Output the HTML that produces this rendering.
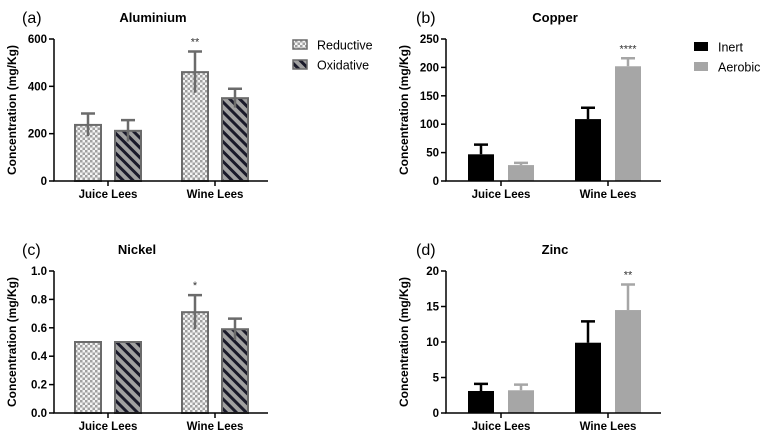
<!DOCTYPE html>
<html><head><meta charset="utf-8"><style>
body{margin:0;background:#fff;width:766px;height:439px;overflow:hidden}
svg{font-family:"Liberation Sans",Arial,sans-serif}
</style></head><body>
<svg id="c" width="766" height="439" xmlns="http://www.w3.org/2000/svg">
<defs>
<pattern id="chk" width="5" height="5" patternUnits="userSpaceOnUse">
<rect width="5" height="5" fill="#f4f4f4"/><rect width="2.5" height="2.5" fill="#a0a0a0"/><rect x="2.5" y="2.5" width="2.5" height="2.5" fill="#a0a0a0"/>
</pattern>
<pattern id="hat" width="7" height="7" patternUnits="userSpaceOnUse" patternTransform="rotate(-45)">
<rect width="7" height="7" fill="#a0a0a0"/><rect width="3" height="7" fill="#1a1a2a"/>
</pattern>
</defs>
</svg>
<script>
const categories = ["Juice Lees", "Wine Lees"];
const alValues = [237, 212, 460, 350];
const alErrors = [48, 45, 87, 40];
const cuValues = [47, 28, 109, 202];
const cuErrors = [17, 4, 20, 14];
const niValues = [0.5, 0.5, 0.71, 0.59];
const niErrors = [0, 0, 0.12, 0.075];
const znValues = [3.1, 3.2, 9.9, 14.5];
const znErrors = [1.0, 0.8, 3.0, 3.6];
const alTicks = ["0", "200", "400", "600"];
const cuTicks = ["0", "50", "100", "150", "200", "250"];
const niTicks = ["0.0", "0.2", "0.4", "0.6", "0.8", "1.0"];
const znTicks = ["0", "5", "10", "15", "20"];
const alStars = ["", "", "**", ""];
const cuStars = ["", "", "", "****"];
const niStars = ["", "", "*", ""];
const znStars = ["", "", "", "**"];

const svg = document.getElementById('c');
const NS = "http://www.w3.org/2000/svg";
function mk(tag, attrs, parent){
  const e = document.createElementNS(NS, tag);
  for (const k in attrs) e.setAttribute(k, attrs[k]);
  (parent || svg).appendChild(e);
  return e;
}
function panel(o){
  const g = mk('g', {});
  
  
  const max = parseFloat(o.ticks[o.ticks.length-1]);
  const y = v => o.y0 - (v/max)*(o.y0 - o.yTop);
  const barW = 26;
  const offs = [0, 40, 107, 147];
  o.vals.forEach((v, i) => {
    const x = o.bx + offs[i];
    const fill = o.kind === 'pat' ? (i % 2 === 0 ? 'url(#chk)' : 'url(#hat)') : (i % 2 === 0 ? '#000' : '#a6a6a6');
    const ec = o.kind === 'pat' ? '#6b6b6b' : (i % 2 === 0 ? '#000' : '#a6a6a6');
    const r = mk('rect', {x: x, y: y(v), width: barW, height: o.y0 - y(v), fill: fill,
      stroke: o.kind === 'pat' ? '#6b6b6b' : 'none', 'stroke-width': 2}, g);
    
    
    const e = o.errs[i];
    if (e > 0) {
      const cx = x + barW/2;
      const lo = o.kind === 'pat' ? y(v - e) : y(v);
      const eb = mk('path', {d: `M${cx},${lo}V${y(v+e)}M${cx-7},${y(v+e)}H${cx+7}`, stroke: ec, 'stroke-width': 2.5, fill: 'none'}, g);
      
      
    }
    if (o.stars[i]) {
      const t = mk('text', {x: x + barW/2, y: y(v + e) - 6, 'text-anchor': 'middle', 'font-size': 11, fill: '#333'}, g);
      t.textContent = o.stars[i];
      
      
    }
  });
  const ax = mk('path', {d: `M${o.ax},${o.yTop}V${o.y0}H${o.axEnd}`, stroke: '#000', 'stroke-width': 1.5, fill: 'none'}, g);
  
  
  o.ticks.forEach(t => {
    const yy = y(parseFloat(t));
    mk('line', {x1: o.ax - 5, x2: o.ax, y1: yy, y2: yy, stroke: '#000', 'stroke-width': 1.5}, g);
    const tx = mk('text', {x: o.ax - 7, y: yy + 4, 'text-anchor': 'end', 'font-size': 11.5, 'font-weight': 'bold'}, g);
    tx.textContent = t;
    
    
  });
  categories.forEach((c, i) => {
    const cx = o.bx + offs[i*2] + (barW + 40)/2;
    mk('line', {x1: cx, x2: cx, y1: o.y0, y2: o.y0 + 5, stroke: '#000', 'stroke-width': 1.5}, g);
    const tx = mk('text', {x: cx, y: o.y0 + 17, 'text-anchor': 'middle', 'font-size': 11.5, 'font-weight': 'bold'}, g);
    tx.textContent = c;
    
    
  });
  const yt = mk('text', {transform: `translate(${o.ax - 38},${(o.y0 + o.yTop)/2}) rotate(-90)`, 'text-anchor': 'middle', 'font-size': 12, 'font-weight': 'bold'}, g);
  yt.textContent = 'Concentration (mg/Kg)';
  
  
  const ti = mk('text', {x: o.titleX, y: o.yTop - 17, 'text-anchor': 'middle', 'font-size': 13, 'font-weight': 'bold'}, g);
  ti.textContent = o.title;
  
  
  const lb = mk('text', {x: o.labelX, y: o.yTop - 16, 'font-size': 16}, g);
  lb.textContent = o.label;
  
  
  if (o.legend) {
    o.legend.forEach((L, i) => {
      const ly = o.legY + i*20;
      const fill = o.kind === 'pat' ? (i === 0 ? 'url(#chk)' : 'url(#hat)') : (i === 0 ? '#000' : '#a6a6a6');
      const r = mk('rect', {x: o.legX, y: ly - 5, width: 14, height: 9, fill: fill, stroke: o.kind === 'pat' ? '#6b6b6b' : 'none', 'stroke-width': 1.5}, g);
      
      
      const t = mk('text', {x: o.legX + 24, y: ly + 4.5, 'font-size': 12.5}, g);
      t.textContent = L;
      
      
    });
  }
}
panel({name:'aluminium-panel', key:'al', kind:'pat', vals:alValues, errs:alErrors, ticks:alTicks, stars:alStars,
  ax:54, axEnd:268, yTop:39, y0:181, bx:75, title:'Aluminium', titleX:153, label:'(a)', labelX:22,
  legend:['Reductive','Oxidative'], legX:293, legY:45});
panel({name:'copper-panel', key:'cu', kind:'solid', vals:cuValues, errs:cuErrors, ticks:cuTicks, stars:cuStars,
  ax:446, axEnd:661, yTop:39, y0:181, bx:468, title:'Copper', titleX:555, label:'(b)', labelX:416,
  legend:['Inert','Aerobic'], legX:694, legY:47});
panel({name:'nickel-panel', key:'ni', kind:'pat', vals:niValues, errs:niErrors, ticks:niTicks, stars:niStars,
  ax:54, axEnd:268, yTop:271, y0:413, bx:75, title:'Nickel', titleX:137, label:'(c)', labelX:22});
panel({name:'zinc-panel', key:'zn', kind:'solid', vals:znValues, errs:znErrors, ticks:znTicks, stars:znStars,
  ax:446, axEnd:661, yTop:271, y0:413, bx:468, title:'Zinc', titleX:555, label:'(d)', labelX:416});
</script>
</body></html>
